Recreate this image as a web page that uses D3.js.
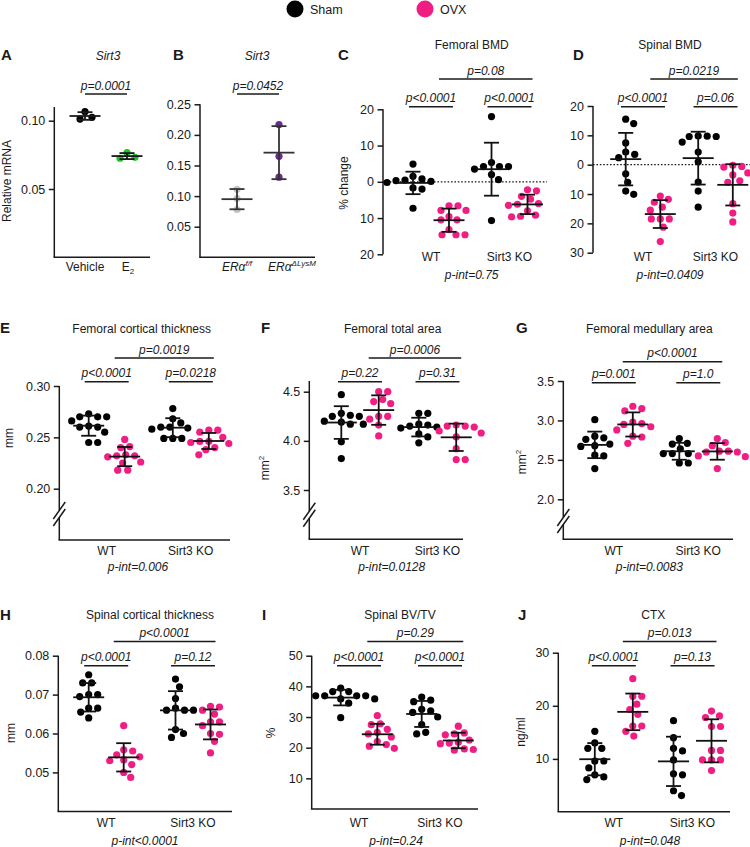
<!DOCTYPE html>
<html>
<head>
<meta charset="utf-8">
<script src="https://cdn.jsdelivr.net/npm/d3@7"></script>
<style>
  body { margin: 0; background: #fff; }
  svg text { font-family: "Liberation Sans", Arial, sans-serif; fill: #1a1a1a; }
</style>
</head>
<body>
<div id="chart"></div>
<script>
// ---- data ----
// A: Sirt3 relative mRNA, vehicle vs E2
const aGroups = ["Vehicle", "E2"];
const aValues = [[0.1066, 0.1012, 0.1025], [0.0725, 0.0766, 0.0732]];
const aTicks = [0.05, 0.10];
// B: Sirt3 relative mRNA, ERa f/f vs ERa dLysM
const bGroups = ["ff", "LysM"];
const bValues = [[0.111, 0.096, 0.078], [0.217, 0.165, 0.131]];
const bTicks = [0.05, 0.10, 0.15, 0.20, 0.25];

// C-J: [WT sham, WT OVX, Sirt3 KO sham, Sirt3 KO OVX]
const genotypes = ["WT", "Sirt3 KO"];
const treatments = ["Sham", "OVX"];

const femoralBMD = [
  [4.9, 1.5, 0.8, 0.5, 0.3, 0.1, -0.2, -1.7, -2.0, -7.3],
  [-6.6, -6.6, -7.9, -7.9, -9.6, -10.5, -10.5, -13.2, -14.6, -14.6, -14.6],
  [18.0, 5.3, 4.2, 4.2, 4.2, 3.5, 2.0, 0.6, -10.7],
  [-2.2, -2.5, -4.0, -4.8, -6.0, -6.2, -6.5, -8.0, -9.5, -9.7, -9.2]
];
const spinalBMD = [
  [15.5, 14.0, 7.4, 4.3, 3.5, 2.4, -3.1, -6.0, -9.0, -10.1],
  [-10.7, -11.8, -12.8, -14.5, -15.5, -18.5, -18.5, -18.5, -21.3, -26.2],
  [9.7, 9.6, 9.6, 9.8, 7.7, 4.3, 1.0, -5.9, -9.0, -14.5],
  [-0.2, -0.6, -0.8, -2.8, -3.5, -5.5, -6.0, -13.3, -16.5, -19.5]
];
const femoralCt = [
  [0.273, 0.270, 0.270, 0.270, 0.266, 0.261, 0.260, 0.260, 0.255, 0.245, 0.245],
  [0.248, 0.241, 0.240, 0.233, 0.232, 0.232, 0.231, 0.226, 0.225, 0.218, 0.218],
  [0.278, 0.268, 0.264, 0.260, 0.260, 0.259, 0.258, 0.249, 0.249, 0.249],
  [0.257, 0.257, 0.255, 0.250, 0.246, 0.246, 0.245, 0.244, 0.240, 0.238, 0.233]
];
const femoralTa = [
  [4.47, 4.28, 4.26, 4.25, 4.25, 4.20, 4.19, 4.17, 4.17, 3.99, 3.82],
  [4.50, 4.50, 4.42, 4.40, 4.38, 4.25, 4.25, 4.22, 4.16, 4.05],
  [4.28, 4.28, 4.17, 4.16, 4.15, 4.14, 4.13, 4.07, 4.04, 3.98],
  [4.16, 4.15, 4.15, 4.14, 4.10, 4.08, 4.04, 3.92, 3.81, 3.81]
];
const femoralMa = [
  [3.01, 2.80, 2.78, 2.76, 2.70, 2.68, 2.67, 2.56, 2.55, 2.39],
  [3.18, 3.15, 3.12, 2.98, 2.96, 2.95, 2.92, 2.88, 2.80, 2.79, 2.71],
  [2.77, 2.71, 2.70, 2.64, 2.58, 2.58, 2.58, 2.46, 2.46],
  [2.77, 2.72, 2.68, 2.61, 2.61, 2.60, 2.60, 2.55, 2.54, 2.39]
];
const spinalCt = [
  [0.0751, 0.0730, 0.0730, 0.0700, 0.0700, 0.0695, 0.0665, 0.0665, 0.0655, 0.0640],
  [0.0620, 0.0558, 0.0555, 0.0545, 0.0540, 0.0532, 0.0530, 0.0520, 0.0500, 0.0487],
  [0.0740, 0.0720, 0.0690, 0.0665, 0.0660, 0.0660, 0.0660, 0.0610, 0.0600, 0.0590],
  [0.0670, 0.0668, 0.0660, 0.0650, 0.0630, 0.0630, 0.0620, 0.0600, 0.0598, 0.0580, 0.0550]
];
const spinalBV = [
  [39.4, 38.3, 38.3, 36.9, 36.9, 36.9, 36.9, 35.9, 35.9, 34.5, 29.8],
  [30.5, 27.8, 27.5, 26.0, 25.0, 24.5, 23.5, 22.0, 21.0, 20.5, 19.8],
  [36.5, 35.5, 35.0, 32.5, 32.0, 31.5, 30.0, 27.5, 25.0, 24.5],
  [27.0, 24.8, 24.5, 24.2, 22.5, 21.8, 21.5, 21.3, 19.6, 19.4, 19.2]
];
const ctx = [
  [15.2, 13.0, 12.0, 12.0, 9.6, 9.6, 8.3, 7.0, 6.6, 6.1],
  [25.1, 21.8, 21.8, 20.3, 19.3, 18.4, 16.2, 16.2, 15.2, 14.3],
  [17.2, 14.0, 12.0, 11.5, 9.8, 7.2, 7.0, 4.0, 3.1],
  [19.0, 18.1, 17.8, 16.1, 16.1, 11.6, 11.6, 9.8, 9.8, 9.8, 7.8]
];

// p labels: [WT pair, KO pair, OVX WT vs KO, interaction]
const femoralBMDp = ["p<0.0001", "p<0.0001", "p=0.08", "p-int=0.75"];
const spinalBMDp = ["p<0.0001", "p=0.06", "p=0.0219", "p-int=0.0409"];
const femoralCtp = ["p<0.0001", "p=0.0218", "p=0.0019", "p-int=0.006"];
const femoralTap = ["p=0.22", "p=0.31", "p=0.0006", "p-int=0.0128"];
const femoralMap = ["p=0.001", "p=1.0", "p<0.0001", "p-int=0.0083"];
const spinalCtp = ["p<0.0001", "p=0.12", "p<0.0001", "p-int<0.0001"];
const spinalBVp = ["p<0.0001", "p<0.0001", "p=0.29", "p-int=0.24"];
const ctxp = ["p<0.0001", "p=0.13", "p=0.013", "p-int=0.048"];

// ---- layout ----
const width = 750, height = 847;
const R = 3.6;
const black = "#000", pink = "#f01e82";

const svg = d3.select("#chart").append("svg")
  .attr("width", width).attr("height", height);

// simple beeswarm: horizontal offsets so dots do not overlap
function swarm(vals, y) {
  const order = d3.range(vals.length).sort((a, b) => vals[b] - vals[a]);
  const placed = [], off = new Array(vals.length);
  const minD = 2 * R + 1.4;
  order.forEach(i => {
    const py = y(vals[i]);
    for (let k = 0; k < 100; k++) {
      const dx = (k % 2 ? 1 : -1) * Math.ceil(k / 2);
      if (placed.every(p => (dx - p.x) ** 2 + (py - p.y) ** 2 >= minD * minD)) {
        off[i] = dx; placed.push({ x: dx, y: py }); break;
      }
    }
  });
  return off;
}

function dots(g, vals, x0, y, color, lineColor) {
  const off = swarm(vals, y);
  g.append("g").selectAll("circle").data(vals).join("circle")
    .attr("cx", (d, i) => x0 + off[i])
    .attr("cy", d => y(d))
    .attr("r", R)
    .attr("fill", color);
  const m = d3.mean(vals), s = d3.deviation(vals);
  const e = g.append("g").attr("stroke", lineColor).attr("stroke-width", 1.8);
  e.append("line").attr("x1", x0 - 15.5).attr("x2", x0 + 15.5).attr("y1", y(m)).attr("y2", y(m));
  e.append("line").attr("x1", x0).attr("x2", x0).attr("y1", y(m + s)).attr("y2", y(m - s));
  [m + s, m - s].forEach(v => e.append("line")
    .attr("x1", x0 - 7.5).attr("x2", x0 + 7.5).attr("y1", y(v)).attr("y2", y(v)));
}

function pLine(g, x1, x2, yy, label) {
  g.append("line").attr("x1", x1).attr("x2", x2).attr("y1", yy).attr("y2", yy)
    .attr("stroke", "#1a1a1a").attr("stroke-width", 1.4);
  g.append("text").attr("x", (x1 + x2) / 2).attr("y", yy - 4.5)
    .attr("text-anchor", "middle").attr("font-style", "italic").attr("font-size", 12)
    .text(label);
}

function line(g, x1, y1, x2, y2) {
  g.append("line").attr("x1", x1).attr("y1", y1).attr("x2", x2).attr("y2", y2)
    .attr("stroke", "#1a1a1a").attr("stroke-width", 1.5);
}

function yAxis(g, L, y, ticks, fmt) {
  g.append("g").attr("transform", `translate(${L.ax},0)`)
    .call(d3.axisLeft(y).tickValues(ticks).tickSize(5.5).tickPadding(3.5).tickFormat(fmt))
    .attr("font-size", 12.5)
    .call(a => a.select(".domain").remove())
    .call(a => a.selectAll(".tick line").attr("stroke", "#1a1a1a").attr("stroke-width", 1.5));
  if (L.brk) {
    line(g, L.ax, L.top, L.ax, L.brk - 3.5);
    line(g, L.ax, L.brk + 3.5, L.ax, L.bottom);
    [-3.5, 3.5].forEach(d => line(g, L.ax - 6, L.brk + d + 8.5, L.ax + 6, L.brk + d - 8.5));
  } else {
    line(g, L.ax, L.top, L.ax, L.bottom);
  }
  if (!L.zero) line(g, L.ax - 0.75, L.bottom, L.right, L.bottom);
}

function letter(g, t, x, y) {
  g.append("text").attr("x", x).attr("y", y).attr("font-size", 15)
    .attr("font-weight", "bold").text(t);
}

function yLabel(g, x, y, t, sup) {
  const tx = g.append("text").attr("transform", `translate(${x},${y}) rotate(-90)`)
    .attr("text-anchor", "middle").attr("font-size", 12).text(t);
  if (sup) tx.append("tspan").attr("font-size", 8).attr("dy", -5).text(sup);
}

// ---- legend ----
const legend = svg.append("g");
[["Sham", black, 295], ["OVX", pink, 425]].forEach(([t, c, x]) => {
  legend.append("circle").attr("cx", x).attr("cy", 9).attr("r", 8.5).attr("fill", c);
  legend.append("text").attr("x", x + 15).attr("y", 13.5).attr("font-size", 12.5).text(t);
});

// ---- panels A and B ----
function drawAB(L, groups, values, ticks, colors, lineColor) {
  const g = svg.append("g");
  const y = d3.scaleLinear().domain(L.domain).range([L.y0, L.y1]);
  const x = d3.scalePoint().domain(groups).range(L.xr);
  yAxis(g, L, y, ticks, d3.format(".2f"));
  values.forEach((v, i) => dots(g, v, x(groups[i]), y, colors[i], lineColor));
  pLine(g, x(groups[0]), x(groups[1]), L.pairY, L.p);
  g.append("text").attr("x", L.titleX).attr("y", 60).attr("text-anchor", "middle")
    .attr("font-style", "italic").attr("font-size", 12).text("Sirt3");
  letter(g, L.letter, L.letterX, 60);
  return { g, x };
}

const A = drawAB({ ax: 54.3, top: 107, bottom: 257.3, right: 150, domain: [0, 0.10], y0: 257.3, y1: 120.7,
  xr: [85, 127], pairY: 94, p: "p=0.0001", titleX: 108, letter: "A", letterX: 1 },
  aGroups, aValues, aTicks, [black, "#22c02a"], "#1a1a1a");
A.g.append("text").attr("x", A.x("Vehicle")).attr("y", 271).attr("text-anchor", "middle")
  .attr("font-size", 12).text("Vehicle");
const e2 = A.g.append("text").attr("x", A.x("E2") + 1).attr("y", 271).attr("text-anchor", "middle")
  .attr("font-size", 12).text("E");
e2.append("tspan").attr("font-size", 8).attr("dy", 3).text("2");
yLabel(A.g, 11, 181, "Relative mRNA");

const B = drawAB({ ax: 200, top: 104.3, bottom: 257.3, right: 315, domain: [0, 0.25], y0: 257.3, y1: 104.3,
  xr: [237, 279], pairY: 94, p: "p=0.0452", titleX: 257, letter: "B", letterX: 173 },
  bGroups, bValues, bTicks, ["#c6c6c6", "#6b2c8f"], "#333");
[["ff", "f/f", "middle", 0], ["LysM", "\u0394LysM", "start", -11]].forEach(([k, sup, anchor, dx]) => {
  const t = B.g.append("text").attr("x", B.x(k) + dx).attr("y", 271).attr("text-anchor", anchor)
    .attr("font-size", 12).attr("font-style", "italic").text("ER\u03b1");
  t.append("tspan").attr("font-size", 8).attr("dy", -5).text(sup);
});

// ---- panels C-J ----
function drawPanel(L, P) {
  const g = svg.append("g");
  const y = d3.scaleLinear().domain(P.domain).range([L.y0, L.y1]);
  const gx = d3.scalePoint().domain(genotypes).range([L.wt, L.ko]);
  const tx = d3.scalePoint().domain(treatments).range([-L.half, L.half]);
  const cx = i => gx(genotypes[Math.floor(i / 2)]) + tx(treatments[i % 2]);

  yAxis(g, L, y, P.ticks, P.fmt);
  if (L.zero) {
    g.append("line").attr("x1", L.ax).attr("x2", L.right).attr("y1", y(0)).attr("y2", y(0))
      .attr("stroke", "#1a1a1a").attr("stroke-width", 1.3).attr("stroke-dasharray", "1.6,1.8");
  }
  P.values.forEach((v, i) => dots(g, v, cx(i), y, i % 2 ? pink : black, "#111"));

  genotypes.forEach((gn, k) => {
    pLine(g, gx(gn) - 22, gx(gn) + 22, L.pairY, P.p[k]);
    g.append("text").attr("x", gx(gn)).attr("y", L.catY).attr("text-anchor", "middle")
      .attr("font-size", 12).text(gn);
  });
  pLine(g, cx(1) - 10, cx(3) + 5, L.topY, P.p[2]);
  g.append("text").attr("x", L.pintX).attr("y", L.pintY).attr("text-anchor", "middle")
    .attr("font-style", "italic").attr("font-size", 12).text(P.p[3]);
  g.append("text").attr("x", L.titleX).attr("y", L.titleY).attr("text-anchor", "middle")
    .attr("font-size", 12).text(P.title);
  letter(g, L.letter, L.letterX, L.letterY);
  if (P.label) yLabel(g, L.labX, L.labY, P.label, P.sup);
}

const absFmt = d => Math.abs(d);
const row1 = { pairY: 106.7, topY: 79, catY: 261, pintY: 279, titleY: 49, letterY: 60, zero: true };
const row2 = { pairY: 381.7, topY: 358, catY: 555, pintY: 571, titleY: 333, letterY: 333 };
const row3 = { pairY: 665.7, topY: 641.5, catY: 826.5, pintY: 844.5, titleY: 619, letterY: 620 };

drawPanel({ ...row1, ax: 383, top: 109.3, bottom: 254.3, right: 547, y0: 254.3, y1: 109.3,
  wt: 431, ko: 509.5, half: 18, pintX: 471.7, titleX: 471.7, letter: "C", letterX: 338, labX: 348, labY: 183 },
  { values: femoralBMD, domain: [-20, 20], ticks: [-20, -10, 0, 10, 20], fmt: absFmt,
    p: femoralBMDp, title: "Femoral BMD", label: "% change" });

drawPanel({ ...row1, ax: 593, top: 106, bottom: 252.7, right: 750, y0: 252.7, y1: 106,
  wt: 643, ko: 715.5, half: 17.3, pintX: 670, titleX: 670, letter: "D", letterX: 573 },
  { values: spinalBMD, domain: [-30, 20], ticks: [-30, -20, -10, 0, 10, 20], fmt: absFmt,
    p: spinalBMDp, title: "Spinal BMD" });

drawPanel({ ...row2, ax: 59.3, top: 386, bottom: 540, right: 230, y0: 488.7, y1: 386, brk: 514,
  wt: 106.7, ko: 190.8, half: 18, pintX: 138, titleX: 141.7, letter: "E", letterX: 0, labX: 13, labY: 438 },
  { values: femoralCt, domain: [0.20, 0.30], ticks: [0.20, 0.25, 0.30], fmt: d3.format(".2f"),
    p: femoralCtp, title: "Femoral cortical thickness", label: "mm" });

drawPanel({ ...row2, ax: 309.3, top: 381, bottom: 539.3, right: 463, y0: 490, y1: 391.7, brk: 514.7,
  wt: 360, ko: 437.5, half: 18.7, pintX: 391.7, titleX: 392.7, letter: "F", letterX: 261, labX: 269, labY: 468 },
  { values: femoralTa, domain: [3.5, 4.5], ticks: [3.5, 4.0, 4.5], fmt: d3.format(".1f"),
    p: femoralTap, title: "Femoral total area", label: "mm", sup: "2" });

drawPanel({ ...row2, ax: 563.3, top: 381, bottom: 539.3, right: 733, y0: 499.3, y1: 381, brk: 521,
  wt: 613.8, ko: 698.3, half: 19, pairY: 382.7, topY: 361.7, pintX: 649.3, titleX: 649.3, letter: "G", letterX: 516,
  labX: 526, labY: 462 },
  { values: femoralMa, domain: [2.0, 3.5], ticks: [2.0, 2.5, 3.0, 3.5], fmt: d3.format(".1f"),
    p: femoralMap, title: "Femoral medullary area", label: "mm", sup: "2" });

drawPanel({ ...row3, ax: 58.3, top: 655.7, bottom: 811.5, right: 232, y0: 811.3, y1: 655.7,
  wt: 106.2, ko: 193, half: 17.5, pintX: 145, titleX: 150, letter: "H", letterX: 0, labX: 15, labY: 733 },
  { values: spinalCt, domain: [0.04, 0.08], ticks: [0.05, 0.06, 0.07, 0.08], fmt: d3.format(".2f"),
    p: spinalCtp, title: "Spinal cortical thickness", label: "mm" });

drawPanel({ ...row3, ax: 311.7, top: 655.7, bottom: 809, right: 478, y0: 809, y1: 655.7,
  wt: 359, ko: 440, half: 18.3, pintX: 396, titleX: 400, letter: "I", letterX: 262, labX: 275, labY: 733 },
  { values: spinalBV, domain: [0, 50], ticks: [10, 20, 30, 40, 50], fmt: d3.format("d"),
    p: spinalBVp, title: "Spinal BV/TV", label: "%" });

drawPanel({ ...row3, ax: 558.3, top: 652.7, bottom: 811.7, right: 730, y0: 812, y1: 652.7,
  wt: 613.8, ko: 692.5, half: 19, pintX: 650, titleX: 653.3, letter: "J", letterX: 518, labX: 525, labY: 732 },
  { values: ctx, domain: [0, 30], ticks: [10, 20, 30], fmt: d3.format("d"),
    p: ctxp, title: "CTX", label: "ng/ml" });
</script>
</body>
</html>
